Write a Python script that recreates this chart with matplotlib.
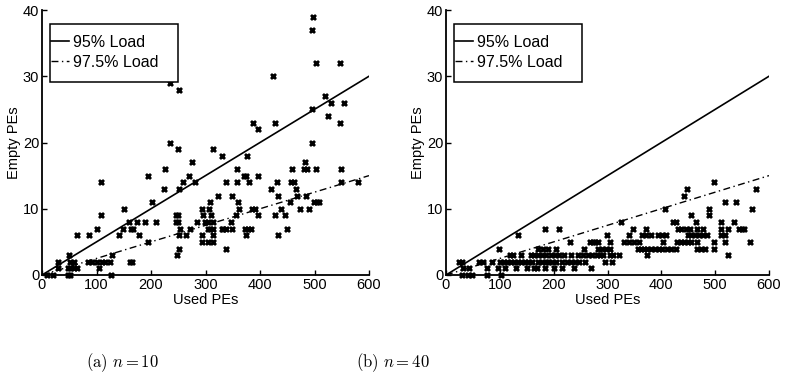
import matplotlib
matplotlib.use("Agg")
import matplotlib.pyplot as plt
from matplotlib.patches import Rectangle

plt.rcParams['font.family'] = ['Liberation Sans', 'DejaVu Sans']
plt.rcParams['mathtext.fontset'] = 'cm'

# ---- data: panel (a) n = 10 ----
x_a = [498, 496, 502, 546, 423, 520, 234, 251, 530, 555, 496, 525, 546, 388, 428, 396,
       234, 496, 249, 314, 331, 376, 276, 483, 226, 357, 459, 480, 486, 503, 548,
       270, 370, 375, 397, 194, 109, 258, 280, 338, 358, 380, 432, 456, 463, 548, 579,
       224, 252, 421, 466, 433, 467, 485, 323, 348, 202, 309, 359, 455, 499, 504, 509,
       151, 294, 307, 361, 385, 391, 438, 473, 489, 109, 245, 249, 310, 295, 356, 396,
       427, 446, 159, 175, 189, 209, 245, 249, 285, 299, 305, 313, 347, 101, 149, 163,
       167, 254, 271, 330, 304, 308, 313, 332, 338, 348, 372, 378, 384, 450, 64, 86,
       141, 178, 251, 264, 294, 313, 374, 433, 195, 293, 305, 314, 251, 338, 49, 128,
       247, 30, 52, 58, 85, 92, 101, 110, 116, 124, 162, 165, 30, 47, 52, 58, 64, 104,
       20, 47, 52, 126, 10]
y_a = [39, 37, 32, 32, 30, 27, 29, 28, 26, 26, 25, 24, 23, 23, 23, 22,
       20, 20, 19, 19, 18, 18, 17, 17, 16, 16, 16, 16, 16, 16, 16,
       15, 15, 15, 15, 15, 14, 14, 14, 14, 14, 14, 14, 14, 14, 14, 14,
       13, 13, 13, 13, 12, 12, 12, 12, 12, 11, 11, 11, 11, 11, 11, 11,
       10, 10, 10, 10, 10, 10, 10, 10, 10, 9, 9, 9, 9, 9, 9, 9,
       9, 9, 8, 8, 8, 8, 8, 8, 8, 8, 8, 8, 8, 7, 7, 7,
       7, 7, 7, 7, 7, 7, 7, 7, 7, 7, 7, 7, 7, 7, 6, 6,
       6, 6, 6, 6, 6, 6, 6, 6, 5, 5, 5, 5, 4, 4, 3, 3,
       3, 2, 2, 2, 2, 2, 2, 2, 2, 2, 2, 2, 1, 1, 1, 1, 1, 1,
       0, 0, 0, 0, 0]

# ---- data: panel (b) n = 40 ----
x_b = [30, 40, 48, 76, 103,
       31, 43, 76, 109, 130, 163, 169, 184, 238, 269, 96, 150, 200, 215,
       25, 30, 62, 68, 86, 101, 107, 113, 120, 127, 133, 140, 146, 153, 171, 178, 185,
       196, 205, 215, 225, 247, 258, 295, 309, 190, 233, 240, 160,
       118, 158, 163, 170, 178, 186, 195, 203, 209, 220, 232, 263, 272, 281, 286, 291,
       304, 310, 322, 374, 524, 125, 140, 246, 255,
       99, 171, 204, 257, 283, 290, 298, 304, 356, 362, 368, 374, 380, 389, 395, 402,
       410, 418, 428, 467, 474, 482, 497, 180, 190,
       230, 267, 273, 283, 276, 304, 331, 340, 349, 358, 403, 429, 436, 443, 449, 455,
       467, 497, 519, 565,
       134, 299, 340, 365, 372, 380, 394, 401, 408, 449, 456, 463, 470, 477, 484, 510, 519,
       184, 210, 347, 372, 431, 436, 445, 454, 467, 477, 510, 524, 544, 549, 554,
       325, 421, 428, 464, 511, 535,
       455, 488,
       407, 488, 568,
       519, 539,
       442,
       447, 576,
       498]
y_b = [0, 0, 0, 0, 0,
       1, 1, 1, 1, 1, 1, 1, 1, 1, 1, 1, 1, 1, 1,
       2, 2, 2, 2, 2, 2, 2, 2, 2, 2, 2, 2, 2, 2, 2, 2, 2,
       2, 2, 2, 2, 2, 2, 2, 2, 2, 2, 2, 2,
       3, 3, 3, 3, 3, 3, 3, 3, 3, 3, 3, 3, 3, 3, 3, 3,
       3, 3, 3, 3, 3, 3, 3, 3, 3,
       4, 4, 4, 4, 4, 4, 4, 4, 4, 4, 4, 4, 4, 4, 4, 4,
       4, 4, 4, 4, 4, 4, 4, 4, 4,
       5, 5, 5, 5, 5, 5, 5, 5, 5, 5, 5, 5, 5, 5, 5, 5,
       5, 5, 5, 5,
       6, 6, 6, 6, 6, 6, 6, 6, 6, 6, 6, 6, 6, 6, 6, 6, 6,
       7, 7, 7, 7, 7, 7, 7, 7, 7, 7, 7, 7, 7, 7, 7,
       8, 8, 8, 8, 8, 8,
       9, 9,
       10, 10, 10,
       11, 11,
       12,
       13, 13,
       14]

# reference load lines
line_x = [0, 600]
line_95 = [0, 30]
line_975 = [0, 15]
legend_labels = ['95% Load', '97.5% Load']
captions = [r'$\mathrm{(a)}\ n = 10$', r'$\mathrm{(b)}\ n = 40$']
xticks = [0, 100, 200, 300, 400, 500, 600]
yticks = [0, 10, 20, 30, 40]

fig = plt.figure(figsize=(7.87, 3.85), dpi=100)
W, H = 787, 385
panels = [(42, 369, x_a, y_a, 122), (446, 769, x_b, y_b, 393)]
for i, (l, r, xs, ys, cx) in enumerate(panels):
    ax = fig.add_axes([l / W, 1 - 275 / H, (r - l) / W, 265 / H])
    ax.plot(line_x, line_95, '-', color='black', lw=1.2, label=legend_labels[0])
    ax.plot(line_x, line_975, '-.', color='black', lw=1.0, label=legend_labels[1],
            dashes=(5, 2.5, 1, 2.5))
    ax.scatter(xs, ys, marker='x', s=13, linewidths=2.0, color='black', zorder=3,
               clip_on=False)
    ax.set_xlim(0, 600)
    ax.set_ylim(0, 40)
    ax.set_xticks(xticks)
    ax.set_yticks(yticks)
    ax.tick_params(direction='in', length=3.5, width=1.0, labelsize=10.5)
    ax.tick_params(axis='x', pad=2.5)
    ax.tick_params(axis='y', pad=2.0)
    for s in ['top', 'right']:
        ax.spines[s].set_visible(False)
    for s in ['left', 'bottom']:
        ax.spines[s].set_linewidth(1.3)
    ax.set_xlabel('Used PEs', fontsize=10.5, labelpad=0.5)
    ax.set_ylabel('Empty PEs', fontsize=10.5, labelpad=1)
    # legend box (pixel geometry of the reference)
    bx0 = l + 8
    fig.patches.append(Rectangle((bx0 / W, 1 - 82 / H), 128 / W, 58 / H,
                                 transform=fig.transFigure, fill=True,
                                 facecolor='white', edgecolor='black', lw=1.1,
                                 zorder=5))
    leg = fig.legend(handles=ax.get_lines(), labels=legend_labels, loc='upper left',
                     bbox_to_anchor=((bx0 + 1) / W, 1 - 35 / H), fontsize=11.5,
                     frameon=False, handlelength=1.15, handletextpad=0.25,
                     borderpad=0.0, labelspacing=0.3, borderaxespad=0)
    leg.set_zorder(6)
    fig.text(cx / W, 1 - 363 / H, captions[i], ha='center', va='center',
             fontsize=12)

fig.savefig('out.png', dpi=100)
